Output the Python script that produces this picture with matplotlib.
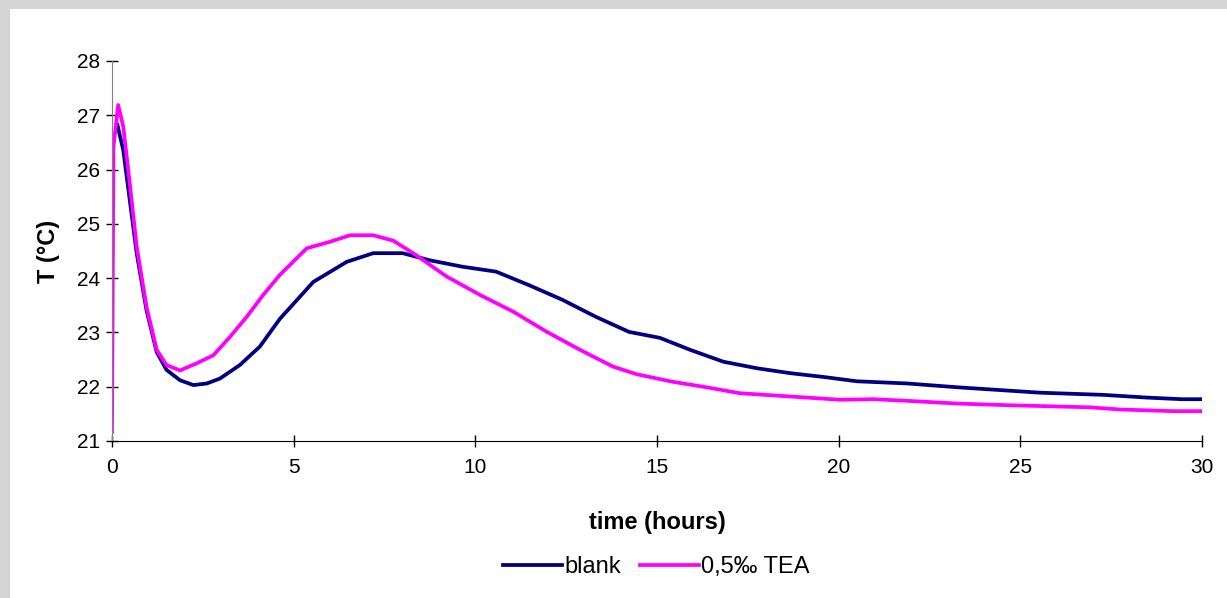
import numpy as np
import matplotlib.pyplot as plt
from matplotlib.patches import Rectangle

# --- data ---
t_blank = [0.15, 0.31, 0.50, 0.68, 0.95, 1.23, 1.50, 1.87, 2.24, 2.61, 2.97,
           3.52, 4.07, 4.62, 5.54, 6.46, 7.19, 8.0, 8.74, 9.65, 10.57, 11.48,
           12.40, 13.31, 14.23, 15.08, 15.91, 16.83, 17.75, 18.66, 19.58,
           20.50, 21.88, 23.26, 24.63, 25.54, 27.28, 28.48, 29.45, 30.0]
T_blank = [26.82, 26.36, 25.38, 24.46, 23.41, 22.64, 22.31, 22.12, 22.03, 22.06,
           22.15, 22.40, 22.74, 23.25, 23.93, 24.30, 24.46, 24.46, 24.33, 24.21,
           24.12, 23.87, 23.60, 23.29, 23.01, 22.90, 22.68, 22.46, 22.34, 22.25,
           22.18, 22.10, 22.06, 21.99, 21.93, 21.89, 21.85, 21.80, 21.77, 21.77]

t_tea = [0.0, 0.04, 0.17, 0.31, 0.50, 0.68, 0.95, 1.23, 1.50, 1.87, 2.33, 2.79,
         3.25, 3.71, 4.16, 4.62, 5.36, 6.0, 6.55, 7.19, 7.74, 8.29, 9.21, 10.13,
         11.05, 11.97, 12.88, 13.79, 14.44, 15.08, 15.44, 16.36, 17.28, 18.66,
         20.04, 20.96, 21.88, 23.26, 24.63, 26.92, 27.75, 29.2, 30.0]
T_tea = [21.17, 26.42, 27.19, 26.79, 25.68, 24.58, 23.47, 22.68, 22.40, 22.30,
         22.43, 22.58, 22.92, 23.29, 23.69, 24.06, 24.55, 24.67, 24.79, 24.79,
         24.69, 24.46, 24.03, 23.69, 23.38, 23.01, 22.68, 22.37, 22.23, 22.14,
         22.09, 21.99, 21.88, 21.82, 21.76, 21.77, 21.74, 21.69, 21.66, 21.62,
         21.58, 21.55, 21.55]

series_labels = ["blank", "0,5\u2030 TEA"]
x_ticks = [0, 5, 10, 15, 20, 25, 30]
y_ticks = [21, 22, 23, 24, 25, 26, 27, 28]

plt.rcParams['font.family'] = ['Liberation Sans', 'DejaVu Sans']

fig = plt.figure(figsize=(12.27, 5.98), dpi=100)
fig.patch.set_facecolor('#d4d4d4')
# white chart area inside the grey frame (drawn below the axes)
fig.patches.append(Rectangle((10 / 1227, 0), 1 - 10 / 1227, 1 - 9 / 598,
                             transform=fig.transFigure, facecolor='white',
                             edgecolor='none', zorder=-10))

ax = fig.add_axes([112 / 1227, 157 / 598, 1090 / 1227, 380 / 598])
ax.set_facecolor('none')

ax.plot(t_blank, T_blank, color='#000080', lw=2.7, label=series_labels[0])
ax.plot(t_tea, T_tea, color='#ff00ff', lw=2.7, label=series_labels[1])

ax.set_xlim(0, 30)
ax.set_ylim(21, 28)
ax.set_xticks(x_ticks)
ax.set_yticks(y_ticks)

for s in ['top', 'right']:
    ax.spines[s].set_visible(False)
ax.spines['left'].set_color('#808080')
ax.spines['bottom'].set_color('black')
ax.tick_params(direction='inout', length=9, width=1, labelsize=15, color='black')
ax.tick_params(axis='x', pad=8)
ax.tick_params(axis='y', pad=4)

ax.set_xlabel("time (hours)", fontsize=17, fontweight='bold', labelpad=24)
ax.set_ylabel("T (\u00b0C)", fontsize=17, fontweight='bold', labelpad=12)

fig.legend(loc='center', bbox_to_anchor=(0.535, 0.052), ncol=2, frameon=False,
           fontsize=17, handlelength=2.5, handletextpad=0.1, columnspacing=0.8)

fig.savefig("out.png", dpi=100, facecolor=fig.get_facecolor())
